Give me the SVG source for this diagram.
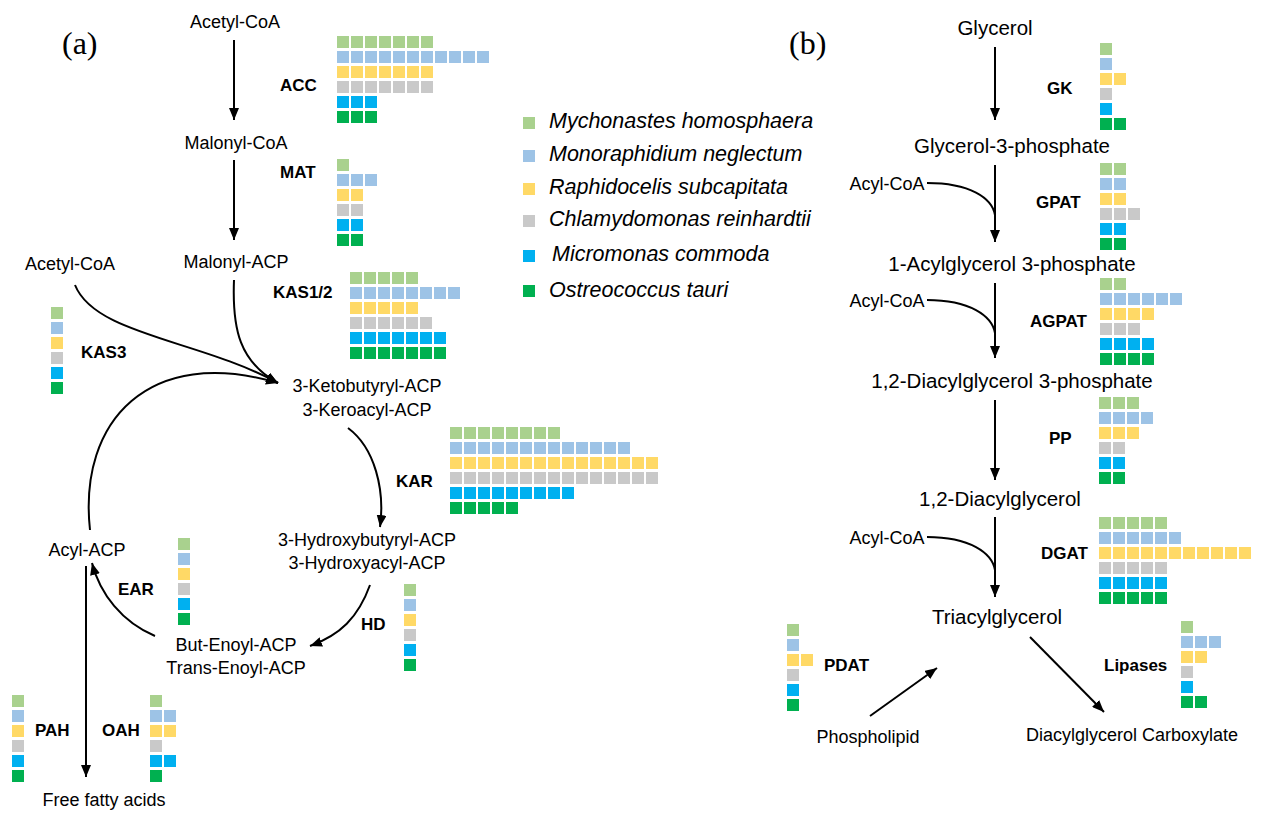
<svg xmlns="http://www.w3.org/2000/svg" width="1269" height="819" viewBox="0 0 1269 819">
<style>
text{font-family:"Liberation Sans",Arial,sans-serif;fill:#000}
.a{font-size:18px;text-anchor:middle}
.b{font-size:20.5px;text-anchor:middle}
.e{font-size:17px;font-weight:bold}
.lg{font-size:21.5px;font-style:italic}
.pl{font-family:"Liberation Serif","Times New Roman",serif;font-size:32px}
.ln{fill:none;stroke:#000;stroke-width:2;marker-end:url(#ah)}
.nm{marker-end:none}
</style>
<defs>
<pattern id="p1" width="14" height="15" patternUnits="userSpaceOnUse"><rect width="12" height="12" fill="#A9D18E"/></pattern>
<pattern id="p2" width="14" height="15" patternUnits="userSpaceOnUse"><rect width="12" height="12" fill="#9DC3E6"/></pattern>
<pattern id="p3" width="14" height="15" patternUnits="userSpaceOnUse"><rect width="12" height="12" fill="#FFD966"/></pattern>
<pattern id="p4" width="14" height="15" patternUnits="userSpaceOnUse"><rect width="12" height="12" fill="#C9C9C9"/></pattern>
<pattern id="p5" width="14" height="15" patternUnits="userSpaceOnUse"><rect width="12" height="12" fill="#00B0F0"/></pattern>
<pattern id="p6" width="14" height="15" patternUnits="userSpaceOnUse"><rect width="12" height="12" fill="#00B050"/></pattern>
<marker id="ah" viewBox="0 0 12 10" markerWidth="12" markerHeight="10" refX="12" refY="5" orient="auto" markerUnits="userSpaceOnUse"><path d="M0,0 L12,5 L0,10 z" fill="#000"/></marker>
</defs>
<rect width="1269" height="819" fill="#fff"/>

<text class="pl" x="62" y="54">(a)</text>
<text class="pl" x="789" y="54">(b)</text>

<g id="connectors">
<line class="ln" x1="234" y1="40" x2="234" y2="120"/>
<line class="ln" x1="234" y1="160" x2="234" y2="240"/>
<path class="ln" d="M234,280 C232,330 240,362 278,383"/>
<path class="ln" d="M75,285 C95,335 200,340 278,383"/>
<path class="ln" d="M90,530 C78,420 150,345 278,383"/>
<path class="ln" d="M348,428 C375,448 385,490 380,527"/>
<path class="ln" d="M370,585 C358,618 340,635 310,646"/>
<path class="ln" d="M155,636 C122,622 100,594 92,563"/>
<line class="ln" x1="86" y1="566" x2="86" y2="777"/>
<line class="ln" x1="995" y1="47" x2="995" y2="120"/>
<line class="ln" x1="995" y1="165" x2="995" y2="242"/>
<path class="ln nm" d="M927,183 C970,183 992,198 995,215"/>
<line class="ln" x1="995" y1="283" x2="995" y2="358"/>
<path class="ln nm" d="M927,300 C970,300 992,316 995,333"/>
<line class="ln" x1="995" y1="400" x2="995" y2="480"/>
<line class="ln" x1="995" y1="517" x2="995" y2="597"/>
<path class="ln nm" d="M927,537 C970,537 992,553 995,570"/>
<line class="ln" x1="870" y1="716" x2="937" y2="668"/>
<line class="ln" x1="1030" y1="637" x2="1104" y2="712"/>
</g>

<g id="n-acetylcoa1"><text class="a" x="235" y="28">Acetyl-CoA</text></g>
<g id="n-malonylcoa"><text class="a" x="236" y="149">Malonyl-CoA</text></g>
<g id="n-malonylacp"><text class="a" x="236" y="268">Malonyl-ACP</text></g>
<g id="n-acetylcoa2"><text class="a" x="70" y="270">Acetyl-CoA</text></g>
<g id="n-keto"><text class="a" x="367" y="392">3-Ketobutyryl-ACP</text><text class="a" x="367" y="416">3-Keroacyl-ACP</text></g>
<g id="n-hydroxy"><text class="a" x="367" y="546">3-Hydroxybutyryl-ACP</text><text class="a" x="367" y="569">3-Hydroxyacyl-ACP</text></g>
<g id="n-enoyl"><text class="a" x="236" y="651">But-Enoyl-ACP</text><text class="a" x="236" y="674">Trans-Enoyl-ACP</text></g>
<g id="n-acylacp"><text class="a" x="87" y="556">Acyl-ACP</text></g>
<g id="n-ffa"><text class="a" x="104" y="806">Free fatty acids</text></g>

<g id="n-glycerol"><text class="b" x="995" y="35">Glycerol</text></g>
<g id="n-g3p"><text class="b" x="1012" y="153">Glycerol-3-phosphate</text></g>
<g id="n-acylcoa1"><text class="a" x="887" y="190">Acyl-CoA</text></g>
<g id="n-lpa"><text class="b" x="1012" y="271">1-Acylglycerol 3-phosphate</text></g>
<g id="n-acylcoa2"><text class="a" x="887" y="307">Acyl-CoA</text></g>
<g id="n-pa"><text class="b" x="1012" y="388">1,2-Diacylglycerol 3-phosphate</text></g>
<g id="n-dag"><text class="b" x="1000" y="506">1,2-Diacylglycerol</text></g>
<g id="n-acylcoa3"><text class="a" x="887" y="544">Acyl-CoA</text></g>
<g id="n-tag"><text class="b" x="997" y="624">Triacylglycerol</text></g>
<g id="n-pl"><text class="a" x="868" y="743">Phospholipid</text></g>
<g id="n-dgc"><text class="a" x="1132" y="741">Diacylglycerol Carboxylate</text></g>

<g id="legend">
<rect x="523" y="117" width="12" height="12" fill="#A9D18E"/><text class="lg" x="549" y="128">Mychonastes homosphaera</text>
<rect x="523" y="150" width="12" height="12" fill="#9DC3E6"/><text class="lg" x="549" y="161">Monoraphidium neglectum</text>
<rect x="523" y="183" width="12" height="12" fill="#FFD966"/><text class="lg" x="549" y="194">Raphidocelis subcapitata</text>
<rect x="523" y="215" width="12" height="12" fill="#C9C9C9"/><text class="lg" x="549" y="226">Chlamydomonas reinhardtii</text>
<rect x="523" y="250" width="12" height="12" fill="#00B0F0"/><text class="lg" x="552" y="261">Micromonas commoda</text>
<rect x="523" y="285" width="12" height="12" fill="#00B050"/><text class="lg" x="549" y="297">Ostreococcus tauri</text>
</g>

<g id="e-acc"><text class="e" x="280" y="91">ACC</text><g transform="translate(337,36)"><rect width="96" height="12" fill="url(#p1)"/><rect y="15" width="152" height="12" fill="url(#p2)"/><rect y="30" width="96" height="12" fill="url(#p3)"/><rect y="45" width="96" height="12" fill="url(#p4)"/><rect y="60" width="40" height="12" fill="url(#p5)"/><rect y="75" width="40" height="12" fill="url(#p6)"/></g></g>
<g id="e-mat"><text class="e" x="280" y="178">MAT</text><g transform="translate(337,159)"><rect width="12" height="12" fill="url(#p1)"/><rect y="15" width="40" height="12" fill="url(#p2)"/><rect y="30" width="26" height="12" fill="url(#p3)"/><rect y="45" width="26" height="12" fill="url(#p4)"/><rect y="60" width="26" height="12" fill="url(#p5)"/><rect y="75" width="26" height="12" fill="url(#p6)"/></g></g>
<g id="e-kas12"><text class="e" x="273" y="298">KAS1/2</text><g transform="translate(350,272)"><rect width="68" height="12" fill="url(#p1)"/><rect y="15" width="110" height="12" fill="url(#p2)"/><rect y="30" width="68" height="12" fill="url(#p3)"/><rect y="45" width="82" height="12" fill="url(#p4)"/><rect y="60" width="96" height="12" fill="url(#p5)"/><rect y="75" width="96" height="12" fill="url(#p6)"/></g></g>
<g id="e-kas3"><text class="e" x="81" y="358">KAS3</text><g transform="translate(51,307)"><rect width="12" height="12" fill="url(#p1)"/><rect y="15" width="12" height="12" fill="url(#p2)"/><rect y="30" width="12" height="12" fill="url(#p3)"/><rect y="45" width="12" height="12" fill="url(#p4)"/><rect y="60" width="12" height="12" fill="url(#p5)"/><rect y="75" width="12" height="12" fill="url(#p6)"/></g></g>
<g id="e-kar"><text class="e" x="396" y="487">KAR</text><g transform="translate(450,427)"><rect width="110" height="12" fill="url(#p1)"/><rect y="15" width="180" height="12" fill="url(#p2)"/><rect y="30" width="208" height="12" fill="url(#p3)"/><rect y="45" width="208" height="12" fill="url(#p4)"/><rect y="60" width="124" height="12" fill="url(#p5)"/><rect y="75" width="68" height="12" fill="url(#p6)"/></g></g>
<g id="e-ear"><text class="e" x="118" y="595">EAR</text><g transform="translate(178,538)"><rect width="12" height="12" fill="url(#p1)"/><rect y="15" width="12" height="12" fill="url(#p2)"/><rect y="30" width="12" height="12" fill="url(#p3)"/><rect y="45" width="12" height="12" fill="url(#p4)"/><rect y="60" width="12" height="12" fill="url(#p5)"/><rect y="75" width="12" height="12" fill="url(#p6)"/></g></g>
<g id="e-hd"><text class="e" x="361" y="630">HD</text><g transform="translate(404,584)"><rect width="12" height="12" fill="url(#p1)"/><rect y="15" width="12" height="12" fill="url(#p2)"/><rect y="30" width="12" height="12" fill="url(#p3)"/><rect y="45" width="12" height="12" fill="url(#p4)"/><rect y="60" width="12" height="12" fill="url(#p5)"/><rect y="75" width="12" height="12" fill="url(#p6)"/></g></g>
<g id="e-pah"><text class="e" x="35" y="736">PAH</text><g transform="translate(12,695)"><rect width="12" height="12" fill="url(#p1)"/><rect y="15" width="12" height="12" fill="url(#p2)"/><rect y="30" width="12" height="12" fill="url(#p3)"/><rect y="45" width="12" height="12" fill="url(#p4)"/><rect y="60" width="12" height="12" fill="url(#p5)"/><rect y="75" width="12" height="12" fill="url(#p6)"/></g></g>
<g id="e-oah"><text class="e" x="102" y="736">OAH</text><g transform="translate(150,695)"><rect width="12" height="12" fill="url(#p1)"/><rect y="15" width="26" height="12" fill="url(#p2)"/><rect y="30" width="26" height="12" fill="url(#p3)"/><rect y="45" width="12" height="12" fill="url(#p4)"/><rect y="60" width="26" height="12" fill="url(#p5)"/><rect y="75" width="12" height="12" fill="url(#p6)"/></g></g>

<g id="e-gk"><text class="e" x="1047" y="94">GK</text><g transform="translate(1100,43)"><rect width="12" height="12" fill="url(#p1)"/><rect y="15" width="12" height="12" fill="url(#p2)"/><rect y="30" width="26" height="12" fill="url(#p3)"/><rect y="45" width="12" height="12" fill="url(#p4)"/><rect y="60" width="12" height="12" fill="url(#p5)"/><rect y="75" width="26" height="12" fill="url(#p6)"/></g></g>
<g id="e-gpat"><text class="e" x="1036" y="208">GPAT</text><g transform="translate(1100,163)"><rect width="26" height="12" fill="url(#p1)"/><rect y="15" width="26" height="12" fill="url(#p2)"/><rect y="30" width="26" height="12" fill="url(#p3)"/><rect y="45" width="40" height="12" fill="url(#p4)"/><rect y="60" width="26" height="12" fill="url(#p5)"/><rect y="75" width="26" height="12" fill="url(#p6)"/></g></g>
<g id="e-agpat"><text class="e" x="1030" y="327">AGPAT</text><g transform="translate(1100,278)"><rect width="26" height="12" fill="url(#p1)"/><rect y="15" width="82" height="12" fill="url(#p2)"/><rect y="30" width="54" height="12" fill="url(#p3)"/><rect y="45" width="40" height="12" fill="url(#p4)"/><rect y="60" width="54" height="12" fill="url(#p5)"/><rect y="75" width="54" height="12" fill="url(#p6)"/></g></g>
<g id="e-pp"><text class="e" x="1049" y="444">PP</text><g transform="translate(1099,397)"><rect width="40" height="12" fill="url(#p1)"/><rect y="15" width="54" height="12" fill="url(#p2)"/><rect y="30" width="40" height="12" fill="url(#p3)"/><rect y="45" width="26" height="12" fill="url(#p4)"/><rect y="60" width="26" height="12" fill="url(#p5)"/><rect y="75" width="26" height="12" fill="url(#p6)"/></g></g>
<g id="e-dgat"><text class="e" x="1041" y="559">DGAT</text><g transform="translate(1099,517)"><rect width="68" height="12" fill="url(#p1)"/><rect y="15" width="82" height="12" fill="url(#p2)"/><rect y="30" width="152" height="12" fill="url(#p3)"/><rect y="45" width="68" height="12" fill="url(#p4)"/><rect y="60" width="68" height="12" fill="url(#p5)"/><rect y="75" width="68" height="12" fill="url(#p6)"/></g></g>
<g id="e-pdat"><text class="e" x="824" y="671">PDAT</text><g transform="translate(787,624)"><rect width="12" height="12" fill="url(#p1)"/><rect y="15" width="12" height="12" fill="url(#p2)"/><rect y="30" width="26" height="12" fill="url(#p3)"/><rect y="45" width="12" height="12" fill="url(#p4)"/><rect y="60" width="12" height="12" fill="url(#p5)"/><rect y="75" width="12" height="12" fill="url(#p6)"/></g></g>
<g id="e-lipases"><text class="e" x="1104" y="671">Lipases</text><g transform="translate(1181,621)"><rect width="12" height="12" fill="url(#p1)"/><rect y="15" width="40" height="12" fill="url(#p2)"/><rect y="30" width="26" height="12" fill="url(#p3)"/><rect y="45" width="12" height="12" fill="url(#p4)"/><rect y="60" width="12" height="12" fill="url(#p5)"/><rect y="75" width="26" height="12" fill="url(#p6)"/></g></g>
</svg>
